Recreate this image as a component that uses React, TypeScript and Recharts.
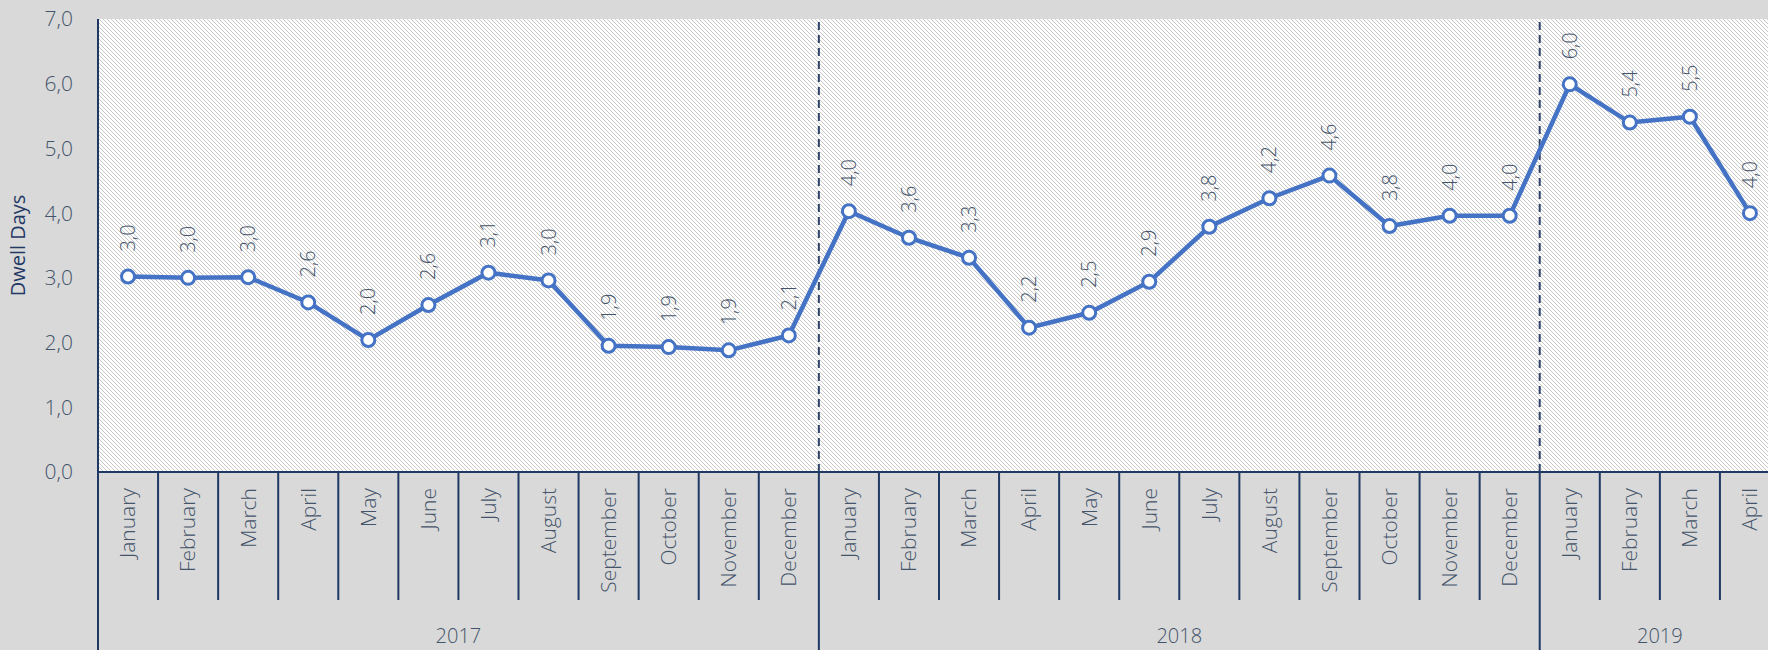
import { LineChart, Line, XAxis, YAxis, CartesianGrid, ReferenceLine, LabelList } from 'recharts';

const months = [
  'January', 'February', 'March', 'April', 'May', 'June',
  'July', 'August', 'September', 'October', 'November', 'December',
];
const years = ['2017', '2018', '2019'];

// Dwell days per month
const dwell2017 = [3.02, 3.0, 3.01, 2.62, 2.04, 2.58, 3.08, 2.96, 1.95, 1.93, 1.88, 2.11];
const dwell2018 = [4.03, 3.62, 3.31, 2.23, 2.46, 2.94, 3.79, 4.23, 4.58, 3.8, 3.96, 3.96];
const dwell2019 = [5.99, 5.4, 5.49, 4.0];

const yTicks = [0, 1, 2, 3, 4, 5, 6, 7];

const FONT = '"Open Sans", "Noto Sans", sans-serif';
const AXIS = '#1f3864';
const TEXT = '#44546a';
const BLUE = '#4472c4';

const MONTH_AXIS_H = 128;
const YEAR_AXIS_H = 50;

const series = [dwell2017, dwell2018, dwell2019];
const data = years.flatMap((yr, yi) =>
  series[yi].map((v, mi) => ({
    key: `${yr}-${mi + 1}`,
    month: months[mi],
    year: yr,
    yearStart: mi === 0,
    yearCount: series[yi].length,
    value: v,
  }))
);

const fmt = (v: number) => v.toFixed(1).replace('.', ',');

const MonthTick = (props: any) => {
  const { x, y, payload } = props;
  const row = data.find((d) => d.key === payload.value);
  const half = payload.offset || 30;
  const ty = y + 16;
  return (
    <g>
      <line x1={x - half} y1={y} x2={x - half} y2={y + MONTH_AXIS_H} stroke={AXIS} strokeWidth={2} />
      <text
        x={x}
        y={ty}
        transform={`rotate(-90, ${x}, ${ty})`}
        textAnchor="end"
        dy="0.35em"
        fill={TEXT}
        fontSize={21}
        fontFamily={FONT}
        fontWeight={300}
      >
        {row ? row.month : ''}
      </text>
    </g>
  );
};

const YearTick = (props: any) => {
  const { x, y, payload } = props;
  const row = data.find((d) => d.key === payload.value);
  if (!row || !row.yearStart) return <g />;
  const half = payload.offset || 30;
  const left = x - half;
  return (
    <g>
      <line x1={left} y1={y} x2={left} y2={y + YEAR_AXIS_H} stroke={AXIS} strokeWidth={2} />
      <text
        x={left + half * row.yearCount}
        y={y + 36}
        textAnchor="middle"
        dy="0.35em"
        fill={TEXT}
        fontSize={20}
        fontFamily={FONT}
        fontWeight={300}
      >
        {row.year}
      </text>
    </g>
  );
};

const ValueLabel = (props: any) => {
  const { x, y, value } = props;
  const ay = y - 25;
  return (
    <text
      x={x}
      y={ay}
      transform={`rotate(-90, ${x}, ${ay})`}
      textAnchor="start"
      dy="0.35em"
      fill={TEXT}
      fontSize={20}
      fontFamily={FONT}
      fontWeight={300}
    >
      {fmt(value)}
    </text>
  );
};

const AxisTitle = (props: any) => {
  const vb = props.viewBox || { x: 0, y: 0, width: 0, height: 0 };
  const cx = vb.x + 18;
  const cy = vb.y + vb.height / 2;
  return (
    <text
      x={cx}
      y={cy}
      transform={`rotate(-90, ${cx}, ${cy})`}
      textAnchor="middle"
      dy="0.35em"
      fill={AXIS}
      fontSize={20}
      fontFamily={FONT}
    >
      Dwell Days
    </text>
  );
};

export default function App() {
  return (
    <div
      style={{
        position: 'absolute',
        left: 0,
        top: 0,
        width: 1768,
        height: 650,
        overflow: 'hidden',
        background: '#d9d9d9',
        fontFamily: FONT,
      }}
    >
      <LineChart
        width={1780}
        height={650}
        data={data}
        margin={{ top: 19, right: 0, bottom: 0, left: 0 }}
      >
        <defs>
          <pattern id="hatch" width="4" height="4" patternUnits="userSpaceOnUse">
            <rect width="4" height="4" fill="#ffffff" />
            <rect x="0" y="0" width="1" height="1" fill="#c8c8c8" />
            <rect x="1" y="1" width="1" height="1" fill="#c8c8c8" />
            <rect x="2" y="2" width="1" height="1" fill="#c8c8c8" />
            <rect x="3" y="3" width="1" height="1" fill="#c8c8c8" />
          </pattern>
        </defs>
        <CartesianGrid horizontal={false} vertical={false} fill="url(#hatch)" fillOpacity={1} />
        <XAxis
          xAxisId="m"
          dataKey="key"
          scale="band"
          interval={0}
          height={MONTH_AXIS_H}
          tickSize={0}
          tickMargin={0}
          tickLine={false}
          axisLine={{ stroke: AXIS, strokeWidth: 2 }}
          tick={<MonthTick />}
        />
        <XAxis
          xAxisId="y"
          dataKey="key"
          scale="band"
          interval={0}
          height={YEAR_AXIS_H}
          tickSize={0}
          tickMargin={0}
          tickLine={false}
          axisLine={false}
          tick={<YearTick />}
        />
        <YAxis
          width={98}
          domain={[0, 7]}
          ticks={yTicks}
          interval={0}
          tickFormatter={(v: number) => fmt(v)}
          tickLine={false}
          tickSize={6}
          tickMargin={19}
          axisLine={{ stroke: AXIS, strokeWidth: 2 }}
          tick={{ fill: TEXT, fontSize: 21, fontFamily: FONT, fontWeight: 300 }}
          label={{ content: <AxisTitle /> }}
        />
        {data
          .filter((d, i) => d.yearStart && i > 0)
          .map((d) => (
            <ReferenceLine
              key={d.key}
              xAxisId="m"
              x={d.key}
              position="start"
              stroke="#2f4468"
              strokeWidth={2}
              strokeDasharray="8 5"
            />
          ))}
        <Line
          xAxisId="m"
          type="linear"
          dataKey="value"
          stroke={BLUE}
          strokeWidth={4.5}
          dot={{ r: 6.5, fill: '#ffffff', stroke: BLUE, strokeWidth: 3 }}
          activeDot={false}
          isAnimationActive={false}
        >
          <LabelList dataKey="value" content={<ValueLabel />} />
        </Line>
      </LineChart>
    </div>
  );
}
